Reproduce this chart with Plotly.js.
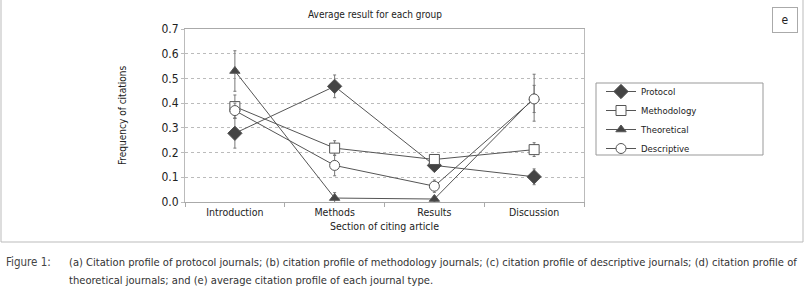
<!DOCTYPE html>
<html><head><meta charset="utf-8">
<script src="https://cdn.plot.ly/plotly-3.0.1.min.js"></script>
<style>html,body{margin:0;padding:0;background:#fff;}#chart{width:804px;height:287px;}</style>
</head><body><div id="chart"></div>
<script>
const sections = ["Introduction", "Methods", "Results", "Discussion"];
const seriesNames = ["Protocol", "Methodology", "Theoretical", "Descriptive"];
const protocol = [0.278, 0.468, 0.148, 0.102];
const protocolErr = [0.060, 0.046, 0.015, 0.032];
const methodology = [0.386, 0.218, 0.172, 0.212];
const methodologyErr = [0.047, 0.030, 0.015, 0.028];
const theoretical = [0.530, 0.016, 0.012, 0.422];
const theoreticalErr = [0.082, 0.022, 0.012, 0.095];
const descriptive = [0.370, 0.148, 0.064, 0.417];
const descriptiveErr = [0.030, 0.042, 0.025, 0.055];
const yTicks = [0.0, 0.1, 0.2, 0.3, 0.4, 0.5, 0.6, 0.7];
const yTickText = ["0.0", "0.1", "0.2", "0.3", "0.4", "0.5", "0.6", "0.7"];

const FONT = "'Liberation Sans Narrow', 'DejaVu Sans Condensed', 'Arial Narrow', sans-serif";
const L = 185, R = 584, T = 29, B = 202, W = 804, H = 287;
const px = x => (x - L) / (R - L);
const py = y => (B - y) / (B - T);
const lineColor = "#555";

function trace(name, vals, errs, symbol, fill, size) {
  return {
    type: "scatter", mode: "lines+markers", name: name,
    x: sections, y: vals,
    line: {color: lineColor, width: 1},
    marker: {symbol: symbol, size: size, color: fill, line: {color: "#555", width: 1}},
    error_y: {type: "data", array: errs, visible: true, color: "#777", thickness: 1, width: 1.5}
  };
}
const data = [
  trace(seriesNames[0], protocol, protocolErr, "diamond", "#444", 11),
  trace(seriesNames[1], methodology, methodologyErr, "square", "#fff", 10),
  trace(seriesNames[2], theoretical, theoreticalErr, "triangle-up", "#444", 9),
  trace(seriesNames[3], descriptive, descriptiveErr, "circle", "#fff", 10)
];

const layout = {
  width: W, height: H,
  margin: {l: L, r: W - R, t: T, b: H - B, pad: 0},
  paper_bgcolor: "#fff", plot_bgcolor: "#fff",
  font: {family: FONT, size: 12, color: "#222"},
  showlegend: true,
  legend: {
    x: px(601), y: py(77), xanchor: "left", yanchor: "top",
    borderwidth: 0, bgcolor: "rgba(0,0,0,0)",
    font: {family: FONT, size: 9.5, color: "#222"},
    tracegroupgap: 0
  },
  xaxis: {
    type: "category", range: [-0.5, 3.5],
    showline: true, linecolor: "#aaa", linewidth: 1, mirror: true,
    ticks: "outside", tickson: "boundaries", ticklen: 4, tickcolor: "#aaa",
    showgrid: false, zeroline: false,
    tickfont: {family: FONT, size: 10.5, color: "#222"},
    title: {text: "Section of citing article", font: {family: FONT, size: 10.5, color: "#222"}, standoff: 6}
  },
  yaxis: {
    range: [0, 0.7], tickvals: yTicks, ticktext: yTickText,
    showline: true, linecolor: "#bbb", linewidth: 1, mirror: true,
    ticks: "outside", ticklen: 3, tickcolor: "#bbb",
    showgrid: true, gridcolor: "#bbb", griddash: "dot", gridwidth: 1,
    zeroline: false,
    tickfont: {family: FONT, size: 12, color: "#222"},
    title: {text: "Frequency of citations", font: {family: FONT, size: 10, color: "#222"}, standoff: 32}
  },
  annotations: [
    {xref: "paper", yref: "paper", x: px(375), y: py(15), text: "Average result for each group",
     showarrow: false, xanchor: "center", yanchor: "middle", font: {family: FONT, size: 10, color: "#222"}},
    {xref: "paper", yref: "paper", x: px(784.5), y: py(19.5), text: "e", showarrow: false,
     xanchor: "center", yanchor: "middle", bordercolor: "#aaa", borderwidth: 1, borderpad: 5,
     width: 14, height: 14, font: {family: FONT, size: 12, color: "#222"}},
    {xref: "paper", yref: "paper", x: px(4), y: py(262), text: "Figure 1:", showarrow: false,
     xanchor: "left", yanchor: "middle", font: {family: FONT, size: 11.5, color: "#444"}},
    {xref: "paper", yref: "paper", x: px(67), y: py(262),
     text: "(a) Citation profile of protocol journals; (b) citation profile of methodology journals; (c) citation profile of descriptive journals; (d) citation profile of",
     showarrow: false, xanchor: "left", yanchor: "middle", font: {family: FONT, size: 11.1, color: "#333"}},
    {xref: "paper", yref: "paper", x: px(67), y: py(280),
     text: "theoretical journals; and (e) average citation profile of each journal type.",
     showarrow: false, xanchor: "left", yanchor: "middle", font: {family: FONT, size: 11.1, color: "#333"}}
  ],
  shapes: [
    {type: "rect", xref: "paper", yref: "paper", x0: px(1), x1: px(803), y0: py(242), y1: py(-5),
     line: {color: "#bbb", width: 1}, fillcolor: "rgba(0,0,0,0)", layer: "below"},
    {type: "rect", xref: "paper", yref: "paper", x0: px(596), x1: px(763), y0: py(155), y1: py(83),
     line: {color: "#999", width: 1}, fillcolor: "rgba(0,0,0,0)", layer: "below"}
  ]
};
Plotly.newPlot("chart", data, layout, {displayModeBar: false, staticPlot: true});
</script></body></html>
